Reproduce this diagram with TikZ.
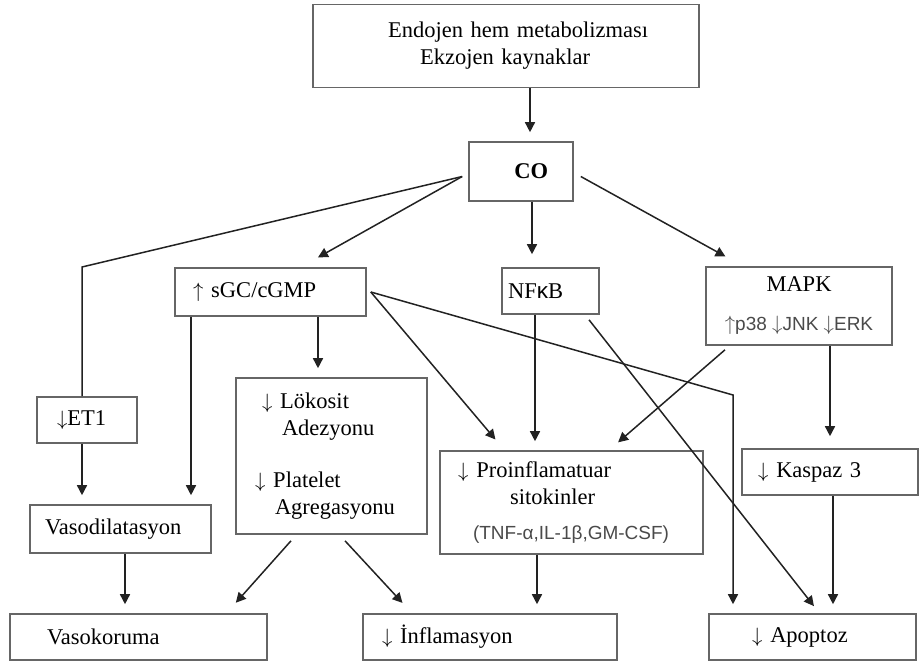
\documentclass[tikz,border=0pt]{standalone}
\usepackage{fontspec}
\setmainfont{Liberation Serif}
\setsansfont{Liberation Sans}
\usepackage{tikz}
\usetikzlibrary{positioning,arrows.meta,calc}
\usepackage{xcolor}
\definecolor{lineGray}{HTML}{222222}
\definecolor{boxGray}{HTML}{666666}
\definecolor{noteGray}{HTML}{4A4A4A}
\newcommand{\dnArrow}{$\downarrow$\hspace{0.35em}}
\newcommand{\upArrow}{$\uparrow$\hspace{0.35em}}
\newcommand{\noteFont}{\fontsize{19}{22}\selectfont\sffamily\color{noteGray}}
\newcommand{\noteArrow}[1]{{\fontsize{22.5}{22}\selectfont$#1$}}

\begin{document}
\begin{tikzpicture}[x=1pt, y=-1pt,
    boxNode/.style={rectangle, draw=boxGray, line width=1.6pt, font=\fontsize{22.5}{27}\selectfont, align=left, inner ysep=0pt},
    arrowStyle/.style={-{Triangle[length=10pt,width=10pt]}, line width=1.5pt, draw=lineGray, shorten >=9pt},
    lineStyle/.style={line width=1.5pt, draw=lineGray}
]
    \useasboundingbox (0,0) rectangle (921,664);

    % kaynak ve CO
    \node[boxNode, align=right, inner xsep=51pt, text width=284pt, minimum height=83pt] (src) at (506,46) {Endojen hem metabolizması\\Ekzojen kaynaklar\hspace{58pt}\mbox{}};
    \node[boxNode, align=right, inner xsep=25pt, text width=54pt, minimum height=59pt] (co) at (521,171.5) {\textbf{CO}};

    % ara yolaklar
    \node[boxNode, inner xsep=20pt, text width=60pt, minimum height=46pt] (et1) at (87,420) {$\downarrow$ET1};
    \node[boxNode, inner xsep=18pt, text width=155pt, minimum height=48pt] (sgc) at (270.5,292) {\upArrow sGC/cGMP};
    \node[boxNode, inner xsep=6pt, text width=85pt, minimum height=46pt] (nfkb) at (550.5,291) {NF{\sffamily κ}B};
    \node[boxNode, align=center, minimum width=186pt, minimum height=78pt] (mapk) at (799,306) {MAPK\\[12pt]{\noteFont \noteArrow{\uparrow}p38 \noteArrow{\downarrow}JNK \noteArrow{\downarrow}ERK}};

    \node[boxNode, inner xsep=19pt, text width=153pt, minimum height=156pt] (lok) at (331.5,456) {\hspace*{7pt}\dnArrow Lökosit\\\hspace*{27pt}Adezyonu\\[25pt]\dnArrow Platelet\\\hspace*{20pt}Agregasyonu};
    \node[boxNode, inner xsep=15pt, text width=151pt, minimum height=48pt] (vasod) at (120.5,529) {Vasodilatasyon};
    \node[boxNode, inner xsep=18pt, text width=227pt, minimum height=103pt] (proinf) at (571.5,502.5) {\dnArrow Proinflamatuar\\\hspace*{52pt}sitokinler\\[8pt]\hspace*{15pt}{\noteFont (TNF-α,IL-1β,GM-CSF)}};
    \node[boxNode, inner xsep=16pt, text width=144pt, minimum height=46pt] (kasp) at (830,472) {\dnArrow Kaspaz 3};

    % sonuclar
    \node[boxNode, inner xsep=37pt, text width=183pt, minimum height=46pt] (vasok) at (138.5,637) {Vasokoruma};
    \node[boxNode, inner xsep=19pt, text width=216pt, minimum height=46pt] (infl) at (490,637) {\dnArrow İnflamasyon};
    \node[boxNode, inner xsep=43pt, text width=121pt, minimum height=46pt] (apop) at (812.5,637) {\dnArrow Apoptoz};

    \coordinate (etBend) at (82,267);
    \coordinate (apBend) at (733,395);

    \draw[arrowStyle] ([xshift=9pt]co.north |- src.south) -- ([xshift=9pt]co.north);
    \draw[lineStyle] ([xshift=-6pt,yshift=-5pt]co.west) -- (etBend) -- (etBend |- et1.north);
    \draw[arrowStyle, shorten >=20pt] ([xshift=-6pt,yshift=-5pt]co.west) -- ([xshift=30pt]sgc.north);
    \draw[arrowStyle, shorten >=13pt] ([xshift=11pt]co.south) -- ([xshift=11pt]co.south |- nfkb.north);
    \draw[arrowStyle, shorten >=20pt] ([xshift=7pt,yshift=-5pt]co.east) -- ([xshift=-56pt]mapk.north);

    \draw[arrowStyle] ([xshift=47.5pt]sgc.south) -- ([xshift=47.5pt]sgc.south |- lok.north);
    \draw[arrowStyle] ([xshift=-79.5pt]sgc.south) -- ([xshift=-79.5pt]sgc.south |- vasod.north);
    \draw[arrowStyle] ([xshift=-5pt]et1.south) -- ([xshift=-5pt]et1.south |- vasod.north);
    \draw[arrowStyle, shorten >=14pt] ([xshift=4pt]sgc.east) -- ([xshift=-67pt]proinf.north);
    \draw[arrowStyle] ([xshift=4pt]sgc.east) -- (apBend) -- (apBend |- apop.north);

    \draw[arrowStyle] ([xshift=-15.5pt]nfkb.south) -- ([xshift=-15.5pt]nfkb.south |- proinf.north);
    \draw[arrowStyle] ([xshift=38.5pt,yshift=-5pt]nfkb.south) -- ([xshift=7pt]apop.north);

    \draw[arrowStyle, shorten >=12pt] ([xshift=-74pt,yshift=-4pt]mapk.south) -- ([xshift=37.5pt]proinf.north);
    \draw[arrowStyle, shorten >=12pt] ([xshift=31pt]mapk.south) -- ([xshift=31pt]mapk.south |- kasp.north);
    \draw[arrowStyle] ([xshift=3pt]kasp.south) -- ([xshift=3pt]kasp.south |- apop.north);

    \draw[arrowStyle] ([xshift=4.5pt]vasod.south) -- ([xshift=4.5pt]vasod.south |- vasok.north);
    \draw[arrowStyle, shorten >=14pt] ([xshift=-40.5pt,yshift=-6pt]lok.south) -- ([xshift=88pt]vasok.north);
    \draw[arrowStyle, shorten >=14pt] ([xshift=13.5pt,yshift=-6pt]lok.south) -- ([xshift=-78pt]infl.north);
    \draw[arrowStyle] ([xshift=-34.5pt]proinf.south) -- ([xshift=-34.5pt]proinf.south |- infl.north);
\end{tikzpicture}
\end{document}
